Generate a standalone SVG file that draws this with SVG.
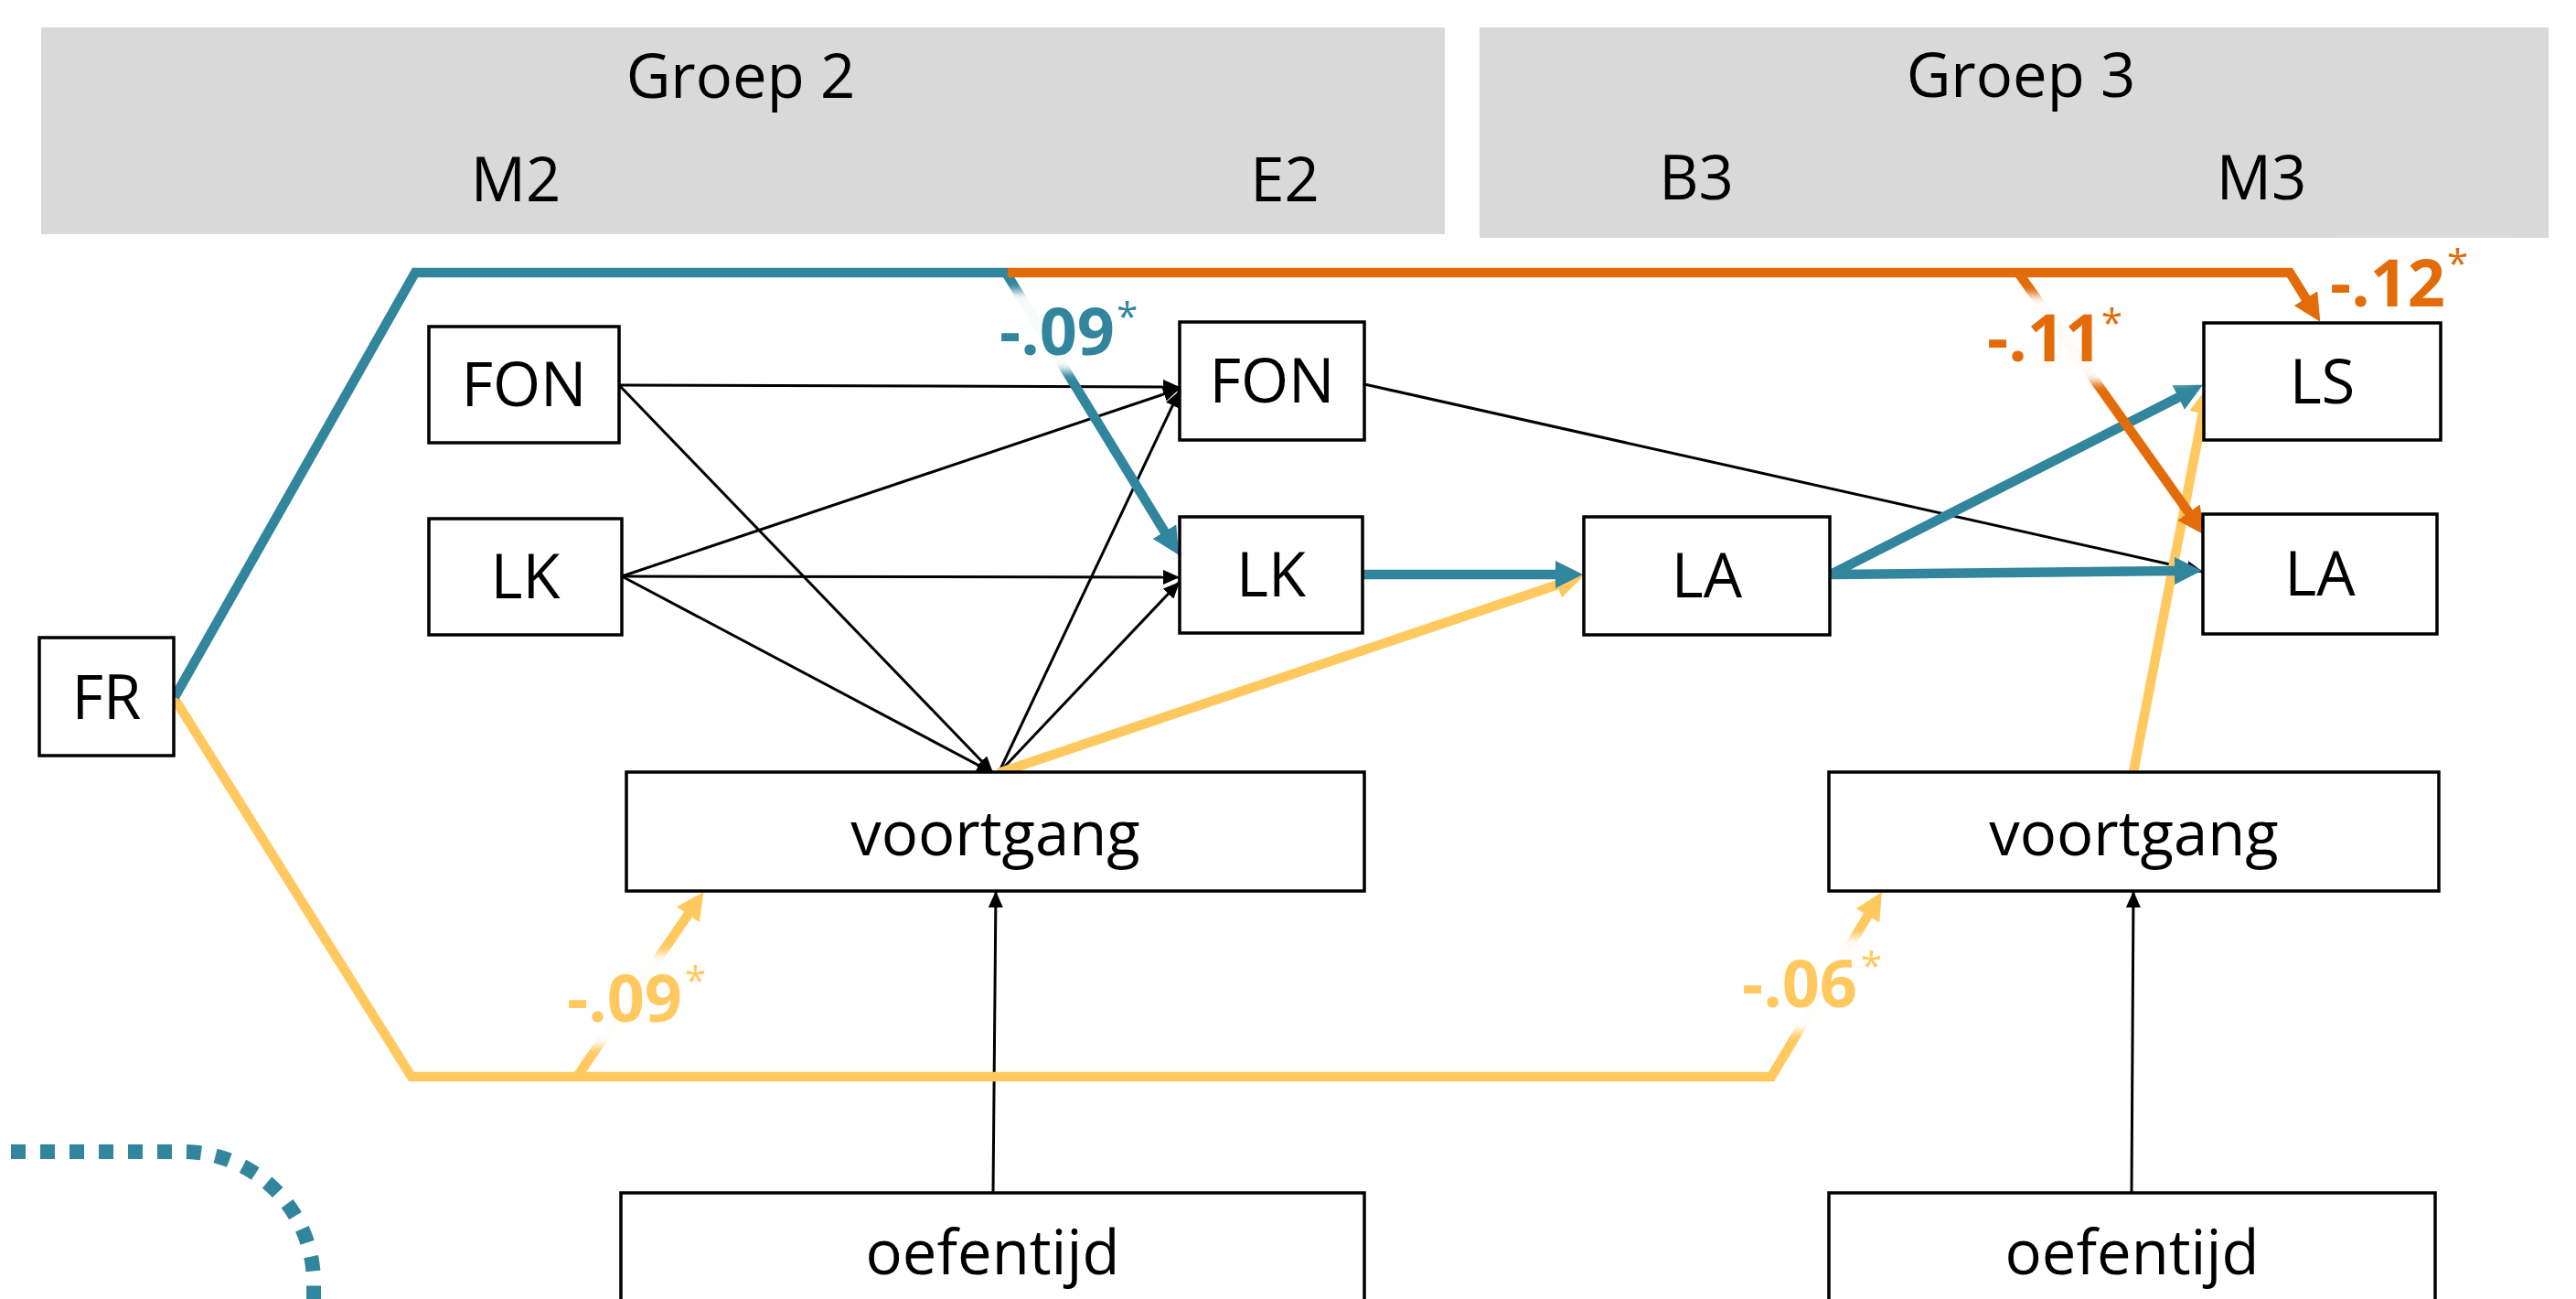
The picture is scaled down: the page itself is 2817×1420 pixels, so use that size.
<svg xmlns="http://www.w3.org/2000/svg" width="2817" height="1420" viewBox="0 0 2817 1420">
  <style>
    .hdr { fill: #D9D9D9; }
    .htxt { font-family: "Open Sans", "Liberation Sans", sans-serif; font-size: 67px; fill: #000; text-anchor: middle; }
    .box { fill: #fff; stroke: #000; stroke-width: 3.5; }
    .ntxt { font-family: "Open Sans", "Liberation Sans", sans-serif; font-size: 67px; fill: #000; text-anchor: middle; }
    .thin { fill: none; stroke: #000; stroke-width: 3; marker-end: url(#ahBlack); }
    .blue { fill: none; stroke: #31859C; stroke-width: 10.5; stroke-linejoin: miter; marker-end: url(#ahBlue); }
    .orange { fill: none; stroke: #E36C09; stroke-width: 10.5; stroke-linejoin: miter; marker-end: url(#ahOrange); }
    .yellow { fill: none; stroke: #FFC95F; stroke-width: 10.5; stroke-linejoin: miter; marker-end: url(#ahYellow); }
    .lblbg { fill: #fff; opacity: 0.97; filter: url(#soft); }
    .lbl { font-family: "Open Sans", "Liberation Sans", sans-serif; font-size: 72px; font-weight: bold; }
    .star { font-size: 42px; font-weight: normal; }
    .dots { fill: none; stroke: #31859C; stroke-width: 16; stroke-dasharray: 16 16; }
  </style>
  <defs>
    <filter id="soft" x="-20%" y="-40%" width="140%" height="180%">
      <feGaussianBlur stdDeviation="5"/>
    </filter>
    <marker id="ahBlack" viewBox="0 0 18 16" refX="18" refY="8" markerWidth="18" markerHeight="16" markerUnits="userSpaceOnUse" orient="auto">
      <path d="M0,0 L18,8 L0,16 z" fill="#000"/>
    </marker>
    <marker id="ahBlue" viewBox="0 0 30 30" refX="1" refY="15" markerWidth="30" markerHeight="30" markerUnits="userSpaceOnUse" orient="auto">
      <path d="M0,0 L30,15 L0,30 z" fill="#31859C"/>
    </marker>
    <marker id="ahOrange" viewBox="0 0 30 30" refX="1" refY="15" markerWidth="30" markerHeight="30" markerUnits="userSpaceOnUse" orient="auto">
      <path d="M0,0 L30,15 L0,30 z" fill="#E36C09"/>
    </marker>
    <marker id="ahYellow" viewBox="0 0 30 30" refX="1" refY="15" markerWidth="30" markerHeight="30" markerUnits="userSpaceOnUse" orient="auto">
      <path d="M0,0 L30,15 L0,30 z" fill="#FFC95F"/>
    </marker>
  </defs>

  <rect width="2817" height="1420" fill="#fff"/>

  <!-- headers -->
  <g id="header-groep2">
    <rect class="hdr" x="45" y="30" width="1535" height="226"/>
    <text class="htxt" x="810" y="107">Groep 2</text>
    <text class="htxt" x="564" y="220">M2</text>
    <text class="htxt" x="1405" y="220">E2</text>
  </g>
  <g id="header-groep3">
    <rect class="hdr" x="1618" y="30" width="1169" height="230"/>
    <text class="htxt" x="2210" y="106">Groep 3</text>
    <text class="htxt" x="1855" y="218">B3</text>
    <text class="htxt" x="2473" y="218">M3</text>
  </g>

  <!-- decorative dotted curve -->
  <path class="dots" d="M-20 1259 H200 A143 143 0 0 1 343 1402 V1440"/>

  <!-- connectors -->
  <g id="connectors">
    <path class="thin" d="M677 421 L1290 423"/>
    <path class="thin" d="M680 630 L1290 425"/>
    <path class="thin" d="M1092 845 L1290 427"/>
    <path class="thin" d="M680 630 L1290 631"/>
    <path class="thin" d="M1092 845 L1290 636"/>
    <path class="thin" d="M677 421 L1086 845"/>
    <path class="thin" d="M680 630 L1086 845"/>
    <path class="thin" d="M1492 420 L2409 625"/>
    <path class="thin" d="M1086 1304 L1089 974"/>
    <path class="thin" d="M2331 1304 L2333 974"/>

    <path class="yellow" d="M191 764 L450 1177 H1937 L2043 1000"/>
    <path class="yellow" d="M631 1177 L753 999"/>
    <path class="yellow" d="M1092 845 L1704 639"/>
    <path class="yellow" d="M2333 844 L2409 451"/>

    <path class="blue" d="M191 762 L454 298 H1100 L1274 582"/>
    <path class="blue" d="M1490 628 H1702"/>
    <path class="blue" d="M2002 628 L2383 434"/>
    <path class="blue" d="M2002 628 L2379 624"/>

    <path class="orange" d="M1102 298 H2504 L2522 327"/>
    <path class="orange" d="M2207 298 L2394 561"/>
  </g>

  <!-- coefficient labels -->
  <g id="labels">
    <rect class="lblbg" x="1075" y="318" width="210" height="88"/>
    <text class="lbl" x="1093" y="388" fill="#31859C">-.09<tspan class="star" x="1221" y="361">*</tspan></text>

    <rect class="lblbg" x="2160" y="322" width="235" height="96"/>
    <text class="lbl" x="2173" y="395" fill="#E36C09">-.11<tspan class="star" x="2298" y="368">*</tspan></text>

    <rect class="lblbg" x="2547" y="266" width="210" height="80"/>
    <text class="lbl" x="2548" y="335" fill="#E36C09">-.12<tspan class="star" x="2676" y="303">*</tspan></text>

    <rect class="lblbg" x="602" y="1042" width="222" height="102"/>
    <text class="lbl" x="620" y="1117" fill="#FFC95F">-.09<tspan class="star" x="749" y="1087">*</tspan></text>

    <rect class="lblbg" x="1887" y="1024" width="222" height="104"/>
    <text class="lbl" x="1905" y="1101" fill="#FFC95F">-.06<tspan class="star" x="2035" y="1071">*</tspan></text>
  </g>

  <!-- nodes -->
  <g id="node-FR">
    <rect class="box" x="43" y="697" width="147" height="129"/>
    <text class="ntxt" x="116.5" y="786">FR</text>
  </g>
  <g id="node-FON-M2">
    <rect class="box" x="469" y="357" width="208" height="127"/>
    <text class="ntxt" x="573" y="444">FON</text>
  </g>
  <g id="node-LK-M2">
    <rect class="box" x="469" y="567" width="211" height="127"/>
    <text class="ntxt" x="574.5" y="654">LK</text>
  </g>
  <g id="node-FON-E2">
    <rect class="box" x="1290" y="352" width="202" height="129"/>
    <text class="ntxt" x="1391" y="440">FON</text>
  </g>
  <g id="node-LK-E2">
    <rect class="box" x="1290" y="565" width="200" height="127"/>
    <text class="ntxt" x="1390" y="652">LK</text>
  </g>
  <g id="node-LA-B3">
    <rect class="box" x="1732" y="565" width="269" height="129"/>
    <text class="ntxt" x="1866.5" y="653">LA</text>
  </g>
  <g id="node-LS-M3">
    <rect class="box" x="2410" y="353" width="259" height="128"/>
    <text class="ntxt" x="2539.5" y="441">LS</text>
  </g>
  <g id="node-LA-M3">
    <rect class="box" x="2409" y="562" width="256" height="131"/>
    <text class="ntxt" x="2537" y="651">LA</text>
  </g>
  <g id="node-voortgang-M2">
    <rect class="box" x="685" y="844" width="807" height="130"/>
    <text class="ntxt" x="1088.5" y="935">voortgang</text>
  </g>
  <g id="node-voortgang-B3">
    <rect class="box" x="2000" y="844" width="667" height="130"/>
    <text class="ntxt" x="2333.5" y="935">voortgang</text>
  </g>
  <g id="node-oefentijd-M2">
    <rect class="box" x="679" y="1304" width="813" height="140"/>
    <text class="ntxt" x="1085.5" y="1393">oefentijd</text>
  </g>
  <g id="node-oefentijd-B3">
    <rect class="box" x="2000" y="1304" width="663" height="140"/>
    <text class="ntxt" x="2331.5" y="1393">oefentijd</text>
  </g>
</svg>
